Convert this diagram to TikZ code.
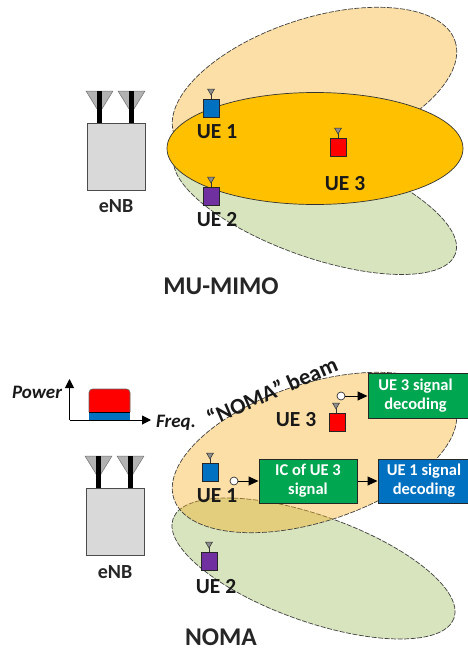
\documentclass[tikz,border=0pt]{standalone}
\usepackage{fontspec}
\setmainfont{Carlito}
\usetikzlibrary{arrows.meta}
\definecolor{lorange}{HTML}{FBDFA6}
\definecolor{nomaorange}{HTML}{F5AF20}
\definecolor{amber}{HTML}{FFC000}
\definecolor{lgreen}{HTML}{D7E4BD}
\definecolor{boxgreen}{HTML}{00A650}
\definecolor{ueblue}{HTML}{0070C0}
\definecolor{uepurple}{HTML}{7030A0}
\definecolor{enbgray}{HTML}{D9D9D9}
\tikzset{
  beam/.style={draw=black!75,dashed,dash pattern=on 5pt off 1.5pt,line width=.7pt},
  uesq/.style={draw=black!85,line width=.7pt,minimum width=16pt,minimum height=18pt,inner sep=0pt},
  lab/.style={font=\bfseries\fontsize{21.5}{21.5}\selectfont,inner sep=0pt,text=black!90},
  enblab/.style={font=\bfseries\fontsize{20}{20}\selectfont,inner sep=0pt,text=black!85},
  title/.style={font=\bfseries\fontsize{25.5}{25.5}\selectfont,inner sep=0pt,text=black!85},
  axlab/.style={font=\bfseries\itshape\fontsize{19}{19}\selectfont,inner sep=0pt,text=black!90},
  proc/.style={draw=black!85,line width=1pt,text=white,align=center,inner sep=0pt,font=\bfseries\fontsize{16.5}{19}\selectfont},
  tap/.style={circle,draw=black!80,fill=white,line width=.7pt,minimum size=8pt,inner sep=0pt},
  flow/.style={line width=1pt,-{Triangle[length=10pt,width=9pt]}},
  axis/.style={line width=1pt,-{Triangle[length=9pt,width=9pt]}},
}
\newcommand{\enb}[3]{% x box-left, y box-top, height
  \node[draw=black!70,fill=enbgray,line width=.8pt,minimum width=58pt,minimum height=#3pt,inner sep=0pt,anchor=north west] at (#1,#2) {};
  \foreach \d in {12.5,44.5}{
    \fill[black!30,draw=black!55,line width=.5pt] (#1+\d-13.5,#2-32) -- (#1+\d+13.5,#2-32) -- (#1+\d,#2-10) -- cycle;
    \draw[line width=4.2pt,black] (#1+\d,#2-32) -- (#1+\d,#2);
  }
}
\newcommand{\ueant}[2]{% x centre, y bottom
  \draw[line width=.6pt,black!80] (#1,#2) -- (#1,#2-10);
  \draw[line width=.5pt,black!80,fill=black!45] (#1-3.5,#2-10) -- (#1+3.5,#2-10) -- (#1,#2-4) -- cycle;
}
\begin{document}
\begin{tikzpicture}[x=1pt,y=-1pt]
\useasboundingbox (0,0) rectangle (467,651);
% ---- MU-MIMO
\draw[beam,fill=lgreen,rotate around={-19.5:(315,204)}] (315,204) ellipse [x radius=149,y radius=53];
\draw[beam,fill=lorange,rotate around={18.2:(314.5,87.5)}] (314.5,87.5) ellipse [x radius=148,y radius=69];
\draw[black!80,line width=.7pt,fill=amber] (315,148.5) ellipse [x radius=148,y radius=56];
\enb{87}{123}{67}
\node[enblab] (enbA) at (116,206) {eNB};
\ueant{211}{99}
\node[uesq,fill=ueblue] (ua1) at (211,108) {};
\node[lab] (la1) at (217,132) {UE 1};
\ueant{338}{138}
\node[uesq,fill=red] (ua3) at (338,147) {};
\node[lab] (la3) at (345,184) {UE 3};
\ueant{211}{187}
\node[uesq,fill=uepurple] (ua2) at (211,196) {};
\node[lab] (la2) at (217,220) {UE 2};
\node[title] (t1) at (221,286) {MU-MIMO};
% ---- NOMA
\draw[beam,fill=lgreen,rotate around={-19.5:(313.5,568.5)}] (313.5,568.5) ellipse [x radius=149,y radius=53];
\draw[beam,fill=nomaorange,fill opacity=.4,rotate around={18.2:(314.5,452.5)}] (314.5,452.5) ellipse [x radius=148,y radius=69];
\enb{86}{488}{67}
\node[enblab] (enbB) at (115,572) {eNB};
\ueant{210}{463}
\node[uesq,fill=ueblue] (ub1) at (210,472) {};
\node[lab] (lb1) at (217,496) {UE 1};
\ueant{336}{413}
\node[uesq,fill=red] (ub3) at (337,422) {};
\node[lab] (lb3) at (296,420) {UE 3};
\ueant{209}{552}
\node[uesq,fill=uepurple] (ub2) at (209,561) {};
\node[lab] (lb2) at (216,587) {UE 2};
\node[title] (t2) at (221,637) {NOMA};
\node[lab,font=\bfseries\fontsize{22.5}{22.5}\selectfont,rotate=23.5] (nb) at (272,391) {“NOMA” beam};
% spectrum
\coordinate (org) at (69.5,420);
\coordinate (axT) at (69.5,379);
\coordinate (axR) at (151,420);
\fill[ueblue] (89,412) rectangle (130,420);
\draw[black!60,line width=.6pt,fill=red,rounded corners=3.5pt] (89,412) -- (89,389) -- (130,389) -- (130,412);
\draw[black,line width=.8pt] (89,412) -- (130,412);
\draw[axis] (org) -- (axT);
\draw[axis] (org) -- (axR);
\node[axlab] (pw) at (37,392) {Power};
\node[axlab] (fq) at (176,423) {Freq.};
% decoding chain
\node[tap] (c3) at (341,396) {};
\node[tap] (c1) at (234,481) {};
\node[proc,fill=boxgreen,minimum width=103pt,minimum height=45pt] (d3) at (419.5,395.5) {\hspace*{-4pt}UE 3 signal\hspace*{4pt}\\\hspace*{-4pt}decoding\hspace*{4pt}};
\node[proc,fill=boxgreen,minimum width=98pt,minimum height=44pt] (ic) at (308,481) {IC of UE 3\\signal};
\node[proc,fill=ueblue,minimum width=92pt,minimum height=44pt] (d1) at (424,481) {UE 1 signal\\decoding};
\draw[flow] (c3) -- (c3 -| d3.west);
\draw[flow] (c1) -- (ic);
\draw[flow] (ic) -- (d1);
\end{tikzpicture}
\end{document}
